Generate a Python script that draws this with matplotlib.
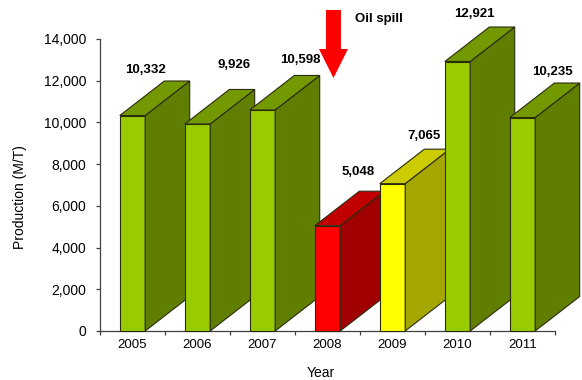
import matplotlib
matplotlib.use('Agg')
import matplotlib.pyplot as plt
from matplotlib.patches import Polygon
from matplotlib.ticker import FuncFormatter

years = ['2005', '2006', '2007', '2008', '2009', '2010', '2011']
production = [10332, 9926, 10598, 5048, 7065, 12921, 10235]

# face colours per bar: (front, side, top)
GREEN = ('#99cc00', '#607f00', '#739900')
RED = ('#ff0000', '#a00000', '#c00000')
YELLOW = ('#ffff00', '#a6a600', '#cccc00')
bar_faces = [GREEN, GREEN, GREEN, RED, YELLOW, GREEN, GREEN]

# value-label nudges in pixels (right, up) from the back top corner line
label_nudge = [(13.5, 11), (37, 24), (37.5, 15), (31, 19), (32, 13), (16.5, 13), (30, 11)]

plt.rcParams['font.family'] = ['Liberation Sans', 'DejaVu Sans']

W, H = 582, 380
fig = plt.figure(figsize=(W / 100, H / 100), dpi=100)
ax = fig.add_axes([100 / W, 1 - 331 / H, 455 / W, 292 / H])
ax.set_xlim(0, 7)
ax.set_ylim(0, 14000)

# oblique depth of each column
DX = 0.685
DY = 1654
HALF = 0.195
EDGE = '#2b2b10'

for i, (v, (front, side, top)) in enumerate(zip(production, bar_faces)):
    xl, xr = i + 0.5 - HALF, i + 0.5 + HALF
    z = 3 + i
    ax.add_patch(Polygon([(xl, 0), (xr, 0), (xr, v), (xl, v)], closed=True,
                         facecolor=front, edgecolor=EDGE, lw=0.8, zorder=z, clip_on=False))
    ax.add_patch(Polygon([(xr, 0), (xr + DX, DY), (xr + DX, v + DY), (xr, v)], closed=True,
                         facecolor=side, edgecolor=EDGE, lw=0.8, zorder=z, clip_on=False))
    ax.add_patch(Polygon([(xl, v), (xr, v), (xr + DX, v + DY), (xl + DX, v + DY)], closed=True,
                         facecolor=top, edgecolor=EDGE, lw=0.8, zorder=z, clip_on=False))
    nx, ny = label_nudge[i]
    ax.annotate(f'{v:,}', xy=(i + 0.5, v + DY), xytext=(nx * 0.72, ny * 0.72),
                textcoords='offset points', ha='center', va='center',
                fontsize=9.5, fontweight='bold', zorder=20, annotation_clip=False)

# red "Oil spill" arrow above 2008
ax_c = 3.5 + 0.092
shaft, head = 0.115, 0.223
y_top, y_neck, y_tip = 15390, 13520, 12130
ax.add_patch(Polygon([(ax_c - shaft, y_top), (ax_c + shaft, y_top), (ax_c + shaft, y_neck),
                      (ax_c + head, y_neck), (ax_c, y_tip), (ax_c - head, y_neck),
                      (ax_c - shaft, y_neck)], closed=True, facecolor='#ff0000',
                     edgecolor='none', zorder=20, clip_on=False))
fig.text(355 / W, 1 - 19 / H, 'Oil spill', fontsize=9.5, fontweight='bold',
         ha='left', va='center')

ax.spines[['top', 'right']].set_visible(False)
for s in ('left', 'bottom'):
    ax.spines[s].set_color('#404040')
    ax.spines[s].set_linewidth(0.9)

ax.set_yticks(range(0, 14001, 2000))
ax.yaxis.set_major_formatter(FuncFormatter(lambda v, _: f'{int(v):,}'))
ax.tick_params(axis='y', direction='out', length=3, width=0.9, color='#404040',
               pad=7, labelsize=10)

ax.set_xticks(range(0, 8))
ax.set_xticklabels([])
ax.set_xticks([i + 0.5 for i in range(7)], minor=True)
ax.set_xticklabels(years, minor=True)
ax.tick_params(axis='x', which='major', direction='out', length=3, width=0.9, color='#404040')
ax.tick_params(axis='x', which='minor', length=0, pad=6, labelsize=9.5)

fig.text(20 / W, 1 - 197 / H, 'Production (M/T)', rotation=90, fontsize=10,
         ha='center', va='center')
fig.text(321 / W, 1 - 373 / H, 'Year', fontsize=10, ha='center', va='center')

fig.savefig('out.png', dpi=100)
